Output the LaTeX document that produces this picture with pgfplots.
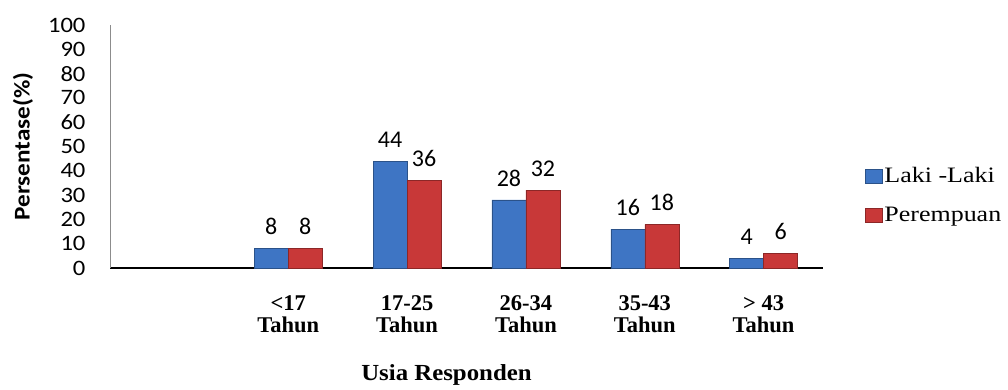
\documentclass[border=0pt]{standalone}
\usepackage{pgfplots}
\pgfplotsset{compat=1.18}
\usepackage{fontspec}
\setmainfont{Carlito}
\newfontfamily\tnr{Liberation Serif}
\newfontfamily\legfont{Liberation Serif}[FakeStretch=1.18]
\newfontfamily\tickfont{Carlito}[FakeStretch=1.12]
\newfontfamily\xlabfont{Liberation Serif}[FakeStretch=1.08]
\definecolor{barblue}{RGB}{62,117,196}
\definecolor{barred}{RGB}{200,56,56}
\begin{document}
\begin{tikzpicture}
\useasboundingbox (0,0) rectangle (1008bp,390bp);
\begin{axis}[
  at={(110bp,122bp)}, anchor=south west,
  scale only axis, width=713bp, height=243bp,
  xmin=-0.5, xmax=5.5, ymin=0, ymax=100,
  ybar=0pt, bar width=34bp,
  clip=false,
  axis x line*=bottom, axis y line*=left,
  x axis line style={black, line width=1.2bp},
  y axis line style={black!45, line width=1bp},
  ytick={0,10,...,100},
  xtick={1,2,3,4,5},
  xticklabels={{<17\\Tahun},{17-25\\Tahun},{26-34\\Tahun},{35-43\\Tahun},{> 43\\Tahun}},
  major tick length=0pt,
  /pgf/number format/assume math mode=true,
  yticklabel style={font=\tickfont\fontsize{22bp}{24bp}\selectfont, xshift=-21bp},
  xticklabel style={font=\tnr\bfseries\fontsize{22.5bp}{22.5bp}\selectfont, align=center, yshift=-24bp},
  ylabel={Persentase(\%)},
  ylabel style={font=\tickfont\bfseries\fontsize{22.5bp}{24bp}\selectfont, at={(axis description cs:-0.122,0.5)}, anchor=center},
  xlabel={Usia Responden},
  xlabel style={font=\xlabfont\bfseries\fontsize{23bp}{26bp}\selectfont, at={(axis description cs:0.5,0)}, xshift=-20bp, yshift=-112bp, anchor=base},
  nodes near coords,
  every node near coord/.append style={font=\fontsize{24bp}{26bp}\selectfont, yshift=10bp, black},
  legend style={at={(axis description cs:1.0545,0.43)}, anchor=north west, draw=none, fill=none, font=\legfont\fontsize{22bp}{26bp}\selectfont, row sep=19bp},
  legend cell align=left,
  legend image code/.code={\fill[#1] (0bp,-7bp) rectangle (17bp,7bp);},
]
\addplot[fill=barblue, draw=barblue!70!black] coordinates {(1,8) (2,44) (3,28) (4,16) (5,4)};
\addplot[fill=barred, draw=barred!70!black] coordinates {(1,8) (2,36) (3,32) (4,18) (5,6)};
\legend{Laki -Laki, Perempuan}
\end{axis}
\end{tikzpicture}
\end{document}
